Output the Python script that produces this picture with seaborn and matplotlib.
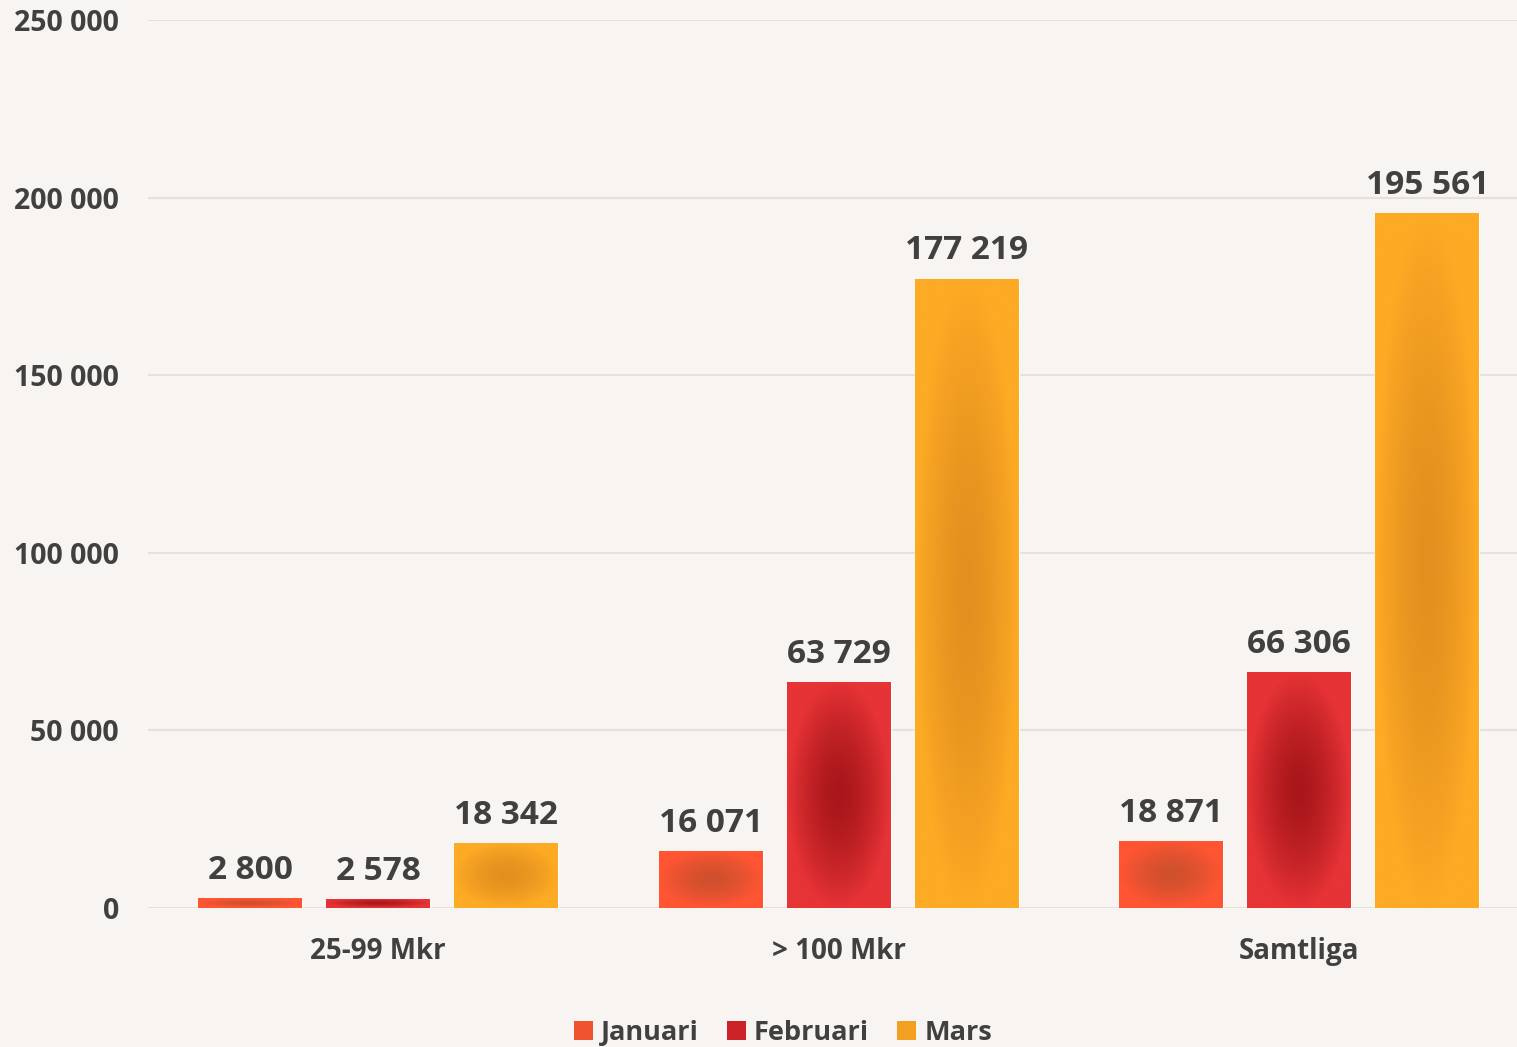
import numpy as np
import pandas as pd
import matplotlib
matplotlib.use("Agg")
import matplotlib.pyplot as plt
import seaborn as sns
from matplotlib.patches import Patch
from matplotlib.colors import to_rgb

categories = ["25-99 Mkr", "> 100 Mkr", "Samtliga"]
months = ["Januari", "Februari", "Mars"]
januari = [2800, 16071, 18871]
februari = [2578, 63729, 66306]
mars = [18342, 177219, 195561]
y_ticks = [0, 50000, 100000, 150000, 200000, 250000]

edge_colors = ["#FF5533", "#E63336", "#FDAA25"]
center_colors = ["#CF502D", "#A8161A", "#E28F1F"]
legend_colors = ["#F0532F", "#CC2227", "#F39F22"]
bg = "#F7F4F1"
txt = "#404040"

sns.set_theme(style="white")
plt.rcParams["font.family"] = ["Open Sans", "DejaVu Sans"]
plt.rcParams["font.weight"] = "bold"

df = pd.DataFrame({
    "cat": np.repeat(categories, 3),
    "month": months * 3,
    "value": [v for trip in zip(januari, februari, mars) for v in trip],
})

fig = plt.figure(figsize=(15.17, 10.47), dpi=100, facecolor=bg)
ax = fig.add_axes([148 / 1517, 139 / 1047, 1369 / 1517, 888 / 1047])
ax.set_facecolor(bg)

sns.barplot(data=df, x="cat", y="value", hue="month", hue_order=months,
            palette=edge_colors, width=0.834, gap=0.188, ax=ax,
            legend=False, saturation=1, errorbar=None, zorder=3)

ax.set_ylim(0, 250000)
ax.set_xlim(-0.4995, 2.473)

def fmt(v):
    return f"{int(v):,}".replace(",", " ")

renderer = fig.canvas.get_renderer()
for ci, cont in enumerate(ax.containers):
    e = np.array(to_rgb(edge_colors[ci]))
    c = np.array(to_rgb(center_colors[ci]))
    for p in cont.patches:
        x0, y0 = p.get_x(), p.get_y()
        w, h = p.get_width(), p.get_height()
        bb = p.get_window_extent(renderer)
        ny = int(max(bb.height, 4))
        nx = int(max(bb.width, 4))
        yy, xx = np.mgrid[-1:1:ny * 1j, -1:1:nx * 1j]
        d = np.sqrt(xx ** 2 + yy ** 2)
        t = np.clip(d / 1.0, 0, 1) ** 1.5
        img = c[None, None, :] + (e - c)[None, None, :] * t[..., None]
        im = ax.imshow(img, extent=[x0, x0 + w, y0, y0 + h], origin="lower",
                       aspect="auto", zorder=4, interpolation="bilinear")
        im.set_clip_path(p)
    ax.bar_label(cont, labels=[fmt(v) for v in cont.datavalues], padding=8,
                 fontsize=24, fontweight="bold", color=txt, zorder=5)

ax.set_ylim(0, 250000)
ax.set_xlim(-0.4995, 2.473)

ax.set_yticks(y_ticks)
ax.set_yticklabels([fmt(v) for v in y_ticks])
ax.yaxis.grid(True, color="#E3E0DD", linewidth=1.5, zorder=0)
ax.set_axisbelow(True)
for s in ax.spines.values():
    s.set_visible(False)
ax.tick_params(axis="y", length=0, pad=21, labelsize=20.5, labelcolor=txt)
ax.tick_params(axis="x", length=0, pad=21, labelsize=20, labelcolor=txt)
for lab in ax.get_xticklabels() + ax.get_yticklabels():
    lab.set_fontweight("bold")
ax.set_xlabel("")
ax.set_ylabel("")

handles = [Patch(facecolor=col, edgecolor="none", label=m) for col, m in zip(legend_colors, months)]
leg = fig.legend(handles=handles, loc="center", bbox_to_anchor=(783 / 1517, 1 - 1033 / 1047),
                 ncol=3, frameon=False, fontsize=19.5, handlelength=0.7, handleheight=0.7,
                 handletextpad=0.3, columnspacing=1.05)
for t in leg.get_texts():
    t.set_color(txt)
    t.set_fontweight("bold")

fig.savefig("out.png", dpi=100, facecolor=bg)
